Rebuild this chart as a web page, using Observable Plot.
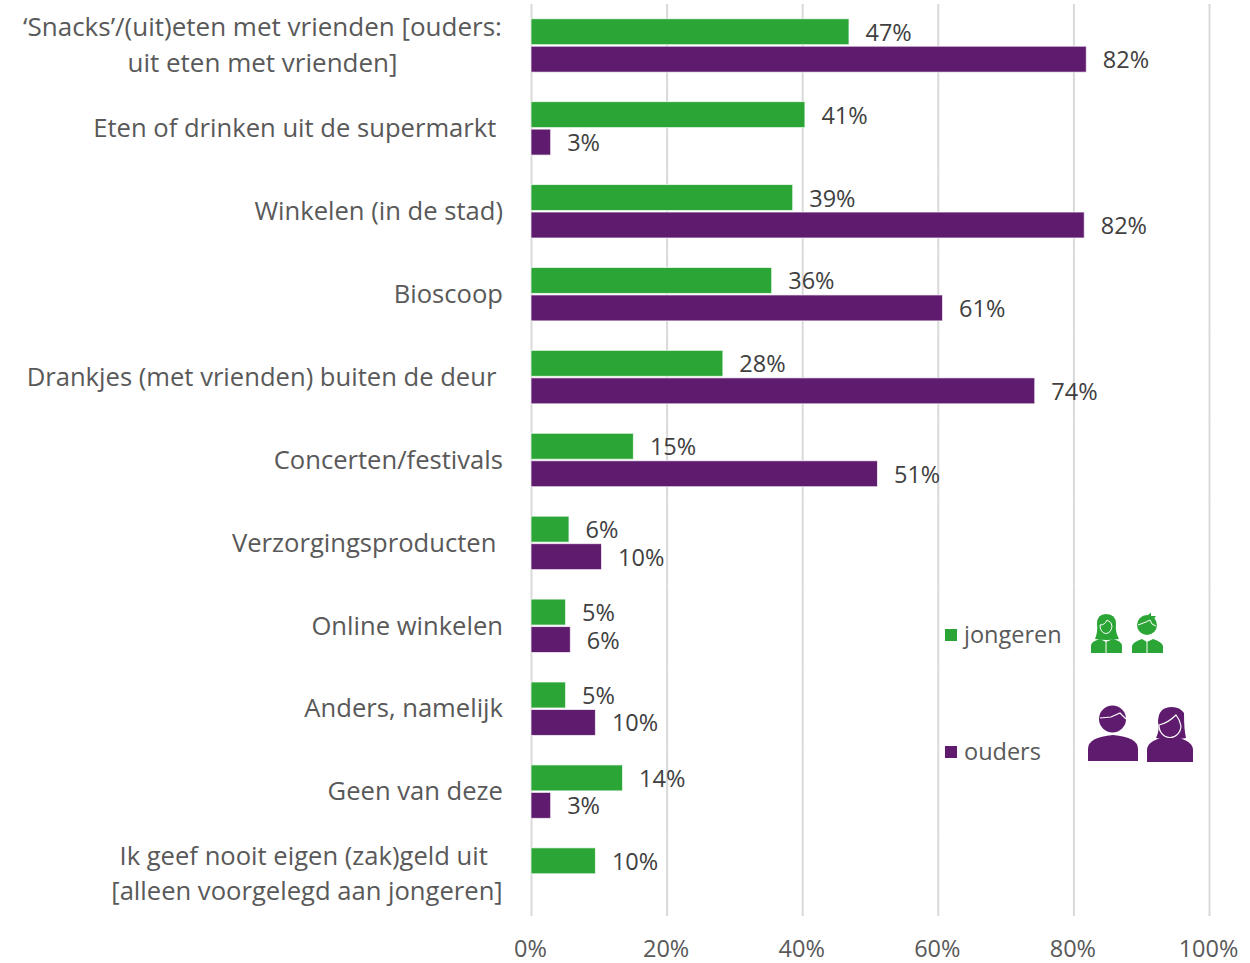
<!DOCTYPE html>
<html>
<head>
<meta charset="utf-8">
<script src="https://cdn.jsdelivr.net/npm/d3@7"></script>
<script src="https://cdn.jsdelivr.net/npm/@observablehq/plot@0.6"></script>
<style>
html,body{margin:0;padding:0;background:#fff;}
#wrap{position:relative;width:1250px;height:963px;overflow:hidden;font-family:"Open Sans",sans-serif;}
#wrap svg{display:block;}
.lg{position:absolute;font-size:23.5px;color:#595959;line-height:30px;white-space:nowrap;}
.sw{position:absolute;width:12px;height:12px;}
#icons{position:absolute;left:0;top:0;pointer-events:none;}
</style>
</head>
<body>
<div id="wrap"></div>
<script>
const categories = [
  "‘Snacks’/(uit)eten met vrienden [ouders:\nuit eten met vrienden]",
  "Eten of drinken uit de supermarkt\u00a0",
  "Winkelen (in de stad)",
  "Bioscoop",
  "Drankjes (met vrienden) buiten de deur\u00a0",
  "Concerten/festivals",
  "Verzorgingsproducten\u00a0",
  "Online winkelen",
  "Anders, namelijk",
  "Geen van deze",
  "Ik geef nooit eigen (zak)geld uit\u00a0\n[alleen voorgelegd aan jongeren]"
];
const series = ["jongeren", "ouders"];
const jongeren = [46.9, 40.4, 38.6, 35.5, 28.3, 15.1, 5.6, 5.1, 5.1, 13.5, 9.5];
const ouders = [81.9, 2.9, 81.6, 60.7, 74.3, 51.1, 10.4, 5.8, 9.5, 2.9, null];
const jongerenLabels = ["47%","41%","39%","36%","28%","15%","6%","5%","5%","14%","10%"];
const oudersLabels = ["82%","3%","82%","61%","74%","51%","10%","6%","10%","3%",null];
const xTicks = [0, 20, 40, 60, 80, 100];
const colors = ["#2ba636", "#5f1b6e"];

const rows = categories.flatMap((c, i) => [
  {c, s: series[0], v: jongeren[i], l: jongerenLabels[i]},
  {c, s: series[1], v: ouders[i], l: oudersLabels[i]}
]).filter(d => d.v != null);

const font = '"Open Sans", sans-serif';
const wrapped = categories.filter(c => c.includes("\n"));
const chart = Plot.plot({
  width: 1250, height: 963,
  marginLeft: 531, marginRight: 41, marginTop: 4, marginBottom: 47,
  style: {fontFamily: font, background: "#fff"},
  x: {domain: [0, 100], axis: null},
  y: {domain: series, axis: null, paddingInner: 0.055, paddingOuter: 0.536, round: false},
  fy: {domain: categories, axis: null, padding: 0, round: false},
  color: {domain: series, range: colors},
  marks: [
    Plot.ruleX(xTicks, {stroke: "#d9d9d9", strokeWidth: 2}),
    Plot.barX(rows, {x: "v", y: "s", fy: "c", fill: "s", stroke: "#fff", strokeWidth: 1, strokeOpacity: 0.7}),
    Plot.text(rows, {x: "v", y: "s", fy: "c", text: "l", textAnchor: "start", dx: 16, dy: 1,
      fill: "#404040", fontSize: 23.5}),
    Plot.text(categories.filter(c => !c.includes("\n")), {fy: d => d, text: d => d, frameAnchor: "left",
      textAnchor: "end", dx: -28.5, fill: "#595959", fontSize: 25.6}),
    Plot.text(wrapped.slice(0, 1), {fy: d => d, text: d => d, frameAnchor: "left",
      textAnchor: "middle", dx: -269, dy: -3, lineHeight: 1.385, fill: "#595959", fontSize: 26}),
    Plot.text(wrapped.slice(1), {fy: d => d, text: d => d, frameAnchor: "left",
      textAnchor: "middle", dx: -224.5, dy: -4, lineHeight: 1.387, fill: "#595959", fontSize: 25.6})
  ]
});
const axisPlot = Plot.plot({
  width: 1250, height: 47, marginLeft: 531, marginRight: 41, marginTop: 0, marginBottom: 0,
  style: {fontFamily: font, background: "transparent"},
  x: {domain: [0, 100], axis: null},
  marks: [
    Plot.text(xTicks, {x: d => d, text: d => d + "%", frameAnchor: "top", dx: -1, dy: 19, fill: "#595959", fontSize: 23.5, lineAnchor: "top"})
  ]
});
axisPlot.style.position = "absolute"; axisPlot.style.left = "0"; axisPlot.style.top = "921px";

const wrap = document.getElementById("wrap");
wrap.append(chart, axisPlot);

// legend
[["jongeren", colors[0], 618.5, 629], ["ouders", colors[1], 735.5, 746]].forEach(([t, col, ty, sy]) => {
  const l = document.createElement("div"); l.className = "lg"; l.textContent = t;
  l.style.left = "964px"; l.style.top = ty + "px"; wrap.append(l);
  const s = document.createElement("div"); s.className = "sw"; s.style.background = col;
  s.style.left = "945px"; s.style.top = sy + "px"; wrap.append(s);
});

// decorative pictograms
const G = colors[0], P = colors[1];
const icons = document.createElementNS("http://www.w3.org/2000/svg", "svg");
icons.setAttribute("id", "icons"); icons.setAttribute("width", 1250); icons.setAttribute("height", 963);
icons.innerHTML = `
<g fill="${P}">
  <path d="M1088,761 V749 Q1088,737 1113,735 Q1138,737 1138,749 V761 Z"/>
  <circle cx="1112.5" cy="719" r="13.5"/>
  <path d="M1100,718 L1111,717 L1120,713 L1126,719" fill="none" stroke="#fff" stroke-width="1.2"/>
  <path d="M1147,762 V750 Q1147,742 1161,738 L1179,738 Q1193,742 1193,750 V762 Z"/>
  <path d="M1156,738 Q1160,730 1158,722 Q1158,707 1172,707 Q1180,707 1184,713 Q1184,730 1186,738 Q1170,741 1156,738 Z"/>
  <path d="M1159,725 Q1168,723 1176,715 Q1180,720 1181,726 A11,12 0 0 1 1159,725 Z" stroke="#fff" stroke-width="1.2"/>
</g>
<g fill="${G}">
  <path d="M1091,653 V645 Q1092,641 1100,639 L1106,642 L1113,639 Q1121,641 1122,645 V653 Z"/>
  <path d="M1095,639 Q1098,632 1097,624 Q1097,614 1106,614 Q1116,614 1116,624 Q1115,632 1119,639 Q1106,641 1095,639 Z"/>
  <path d="M1100,625 Q1105,625 1107,620 Q1112,622 1112,626 A6,8 0 0 1 1100,625 Z" stroke="#fff" stroke-width="1"/>
  <path d="M1106,642 V653" stroke="#fff" stroke-width="1"/>
  <path d="M1132,653 V646 Q1133,642 1142,639 L1147,642 L1153,639 Q1162,642 1163,646 V653 Z"/>
  <circle cx="1147" cy="625" r="10"/>
  <path d="M1147,616 L1151,612.5 L1151,616 L1156,616 L1153,620 Z"/>
  <path d="M1138,625 L1146,622 L1150,620 L1152,624 L1156,626" fill="none" stroke="#fff" stroke-width="1"/>
  <path d="M1147,642 V653" stroke="#fff" stroke-width="1"/>
</g>`;
wrap.append(icons);
</script>
</body>
</html>
